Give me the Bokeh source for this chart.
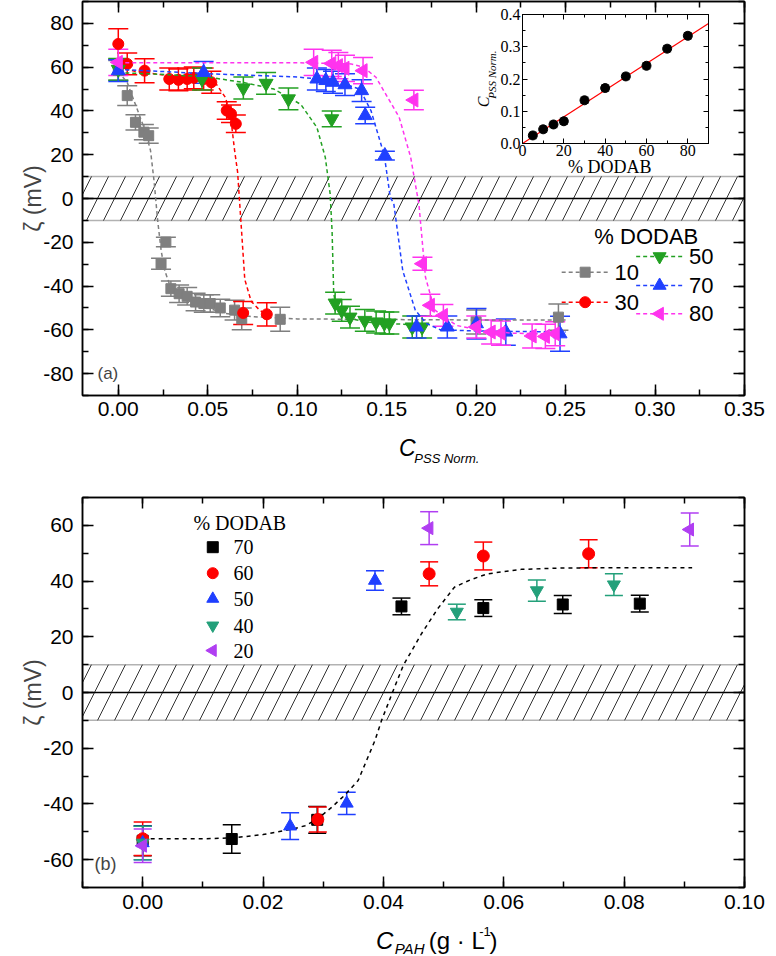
import numpy as np
from bokeh.plotting import figure
from bokeh.models import (ColumnDataSource, Whisker, TeeHead, BoxAnnotation, Span, Label,
                          LinearAxis, Range1d, FixedTicker, NumeralTickFormatter,
                          CustomLabelingPolicy)
from bokeh.layouts import column
from bokeh.embed import file_html
from bokeh.resources import INLINE

SANS = "Liberation Sans"
SERIF = "Liberation Serif"

# ---------------- panel (a): zeta potential vs C_PSS Norm. ----------------
a10_x = [0.000, 0.005, 0.0096, 0.0143, 0.017, 0.0239, 0.0266, 0.0294, 0.034, 0.0385, 0.0432,
         0.0478, 0.0514, 0.057, 0.065, 0.069, 0.0905, 0.200, 0.246]
a10_y = [58.5, 47.0, 34.8, 30.3, 28.7, -29.8, -19.9, -41.2, -43.5, -44.7, -47.3,
         -48.0, -48.0, -50.0, -51.0, -55.0, -55.2, -56.4, -54.2]
a10_e = [4.5, 4.5, 3.5, 3.5, 3.5, 2.5, 2.2, 3.5, 4.0, 4.0, 4.0, 4.0, 4.0, 4.0, 4.5, 5.0, 5.5, 5.5, 6.0]

a30_x = [0.000, 0.005, 0.0147, 0.0285, 0.0336, 0.0385, 0.0422, 0.0477, 0.052, 0.0606, 0.063,
         0.0657, 0.0698, 0.083]
a30_y = [70.6, 61.5, 58.4, 54.6, 54.2, 54.6, 55.1, 54.6, 53.1, 40.2, 38.7, 34.1, -52.3, -52.9]
a30_e = [7.0, 5.0, 5.5, 5.0, 5.0, 5.0, 5.0, 5.0, 5.0, 4.0, 4.0, 4.0, 5.3, 5.3]

a50_x = [0.000, 0.0468, 0.0699, 0.0826, 0.0951, 0.1193, 0.1212, 0.1249, 0.1295, 0.1378,
         0.1441, 0.1487, 0.1515, 0.1643, 0.1698]
a50_y = [59.0, 54.6, 50.5, 52.6, 45.5, 36.4, -47.8, -51.1, -54.2, -55.7, -56.4, -56.9, -56.9,
         -58.7, -58.7]
a50_e = [5.0, 5.0, 5.0, 5.0, 5.0, 3.6, 5.0, 5.0, 5.0, 5.0, 5.0, 5.0, 5.0, 5.0, 5.0]

a70_x = [0.000, 0.0477, 0.111, 0.116, 0.120, 0.1267, 0.136, 0.138, 0.149, 0.1667, 0.1839,
         0.2002, 0.2166, 0.2469]
a70_y = [58.4, 57.6, 54.6, 53.9, 53.1, 52.0, 49.3, 37.9, 19.6, -58.7, -58.7, -57.2, -61.0, -61.8]
a70_e = [5.0, 5.0, 5.0, 5.0, 5.0, 5.0, 5.0, 3.8, 2.0, 5.0, 5.0, 7.0, 6.0, 8.0]

a80_x = [0.000, 0.1092, 0.1193, 0.123, 0.1267, 0.1368, 0.1652, 0.170, 0.1744, 0.1817, 0.2001,
         0.2084, 0.2139, 0.2313, 0.2387, 0.2442]
a80_y = [62.2, 62.2, 61.7, 60.7, 59.5, 58.4, 45.0, -29.8, -48.8, -53.4, -58.7, -61.0, -61.5,
         -62.8, -63.0, -61.8]
a80_e = [6.0, 6.0, 6.0, 6.0, 6.0, 6.0, 4.4, 3.0, 5.0, 5.0, 5.0, 5.5, 5.5, 5.5, 5.5, 5.5]

# dashed guide curves
f10_x = [0.000, 0.005, 0.010, 0.015, 0.018, 0.020, 0.022, 0.024, 0.026, 0.029, 0.033, 0.040,
         0.050, 0.060, 0.075, 0.100, 0.150, 0.200, 0.250]
f10_y = [58, 53, 42, 31, 22, 8, -10, -24, -33, -40, -44, -47, -50, -52.5, -54, -55, -55.3,
         -55.5, -55.5]
f30_x = [0.000, 0.010, 0.020, 0.030, 0.040, 0.050, 0.055, 0.060, 0.063, 0.065, 0.0667, 0.0685,
         0.0707, 0.0743, 0.079, 0.083]
f30_y = [60, 58, 57, 56, 55.5, 54.5, 52, 46, 36, 22, 12, -10, -37, -47, -51, -53]
f50_x = [0.000, 0.030, 0.050, 0.070, 0.087, 0.102, 0.111, 0.1157, 0.1184, 0.1195, 0.1204,
         0.1215, 0.125, 0.130, 0.140, 0.155, 0.170]
f50_y = [57.5, 56.5, 55.5, 53, 50, 43, 32.5, 18.8, 2.2, -15, -43, -49, -52.5, -55, -56.5,
         -57.3, -57.8]
f70_x = [0.000, 0.050, 0.100, 0.120, 0.135, 0.1413, 0.144, 0.1487, 0.152, 0.154, 0.159, 0.166,
         0.172, 0.180, 0.200, 0.250]
f70_y = [59, 57, 55.5, 54, 50, 40, 32.5, 19.6, 0.6, -2.4, -33, -51, -57, -60, -60.5, -61]
f80_x = [0.000, 0.050, 0.100, 0.130, 0.137, 0.144, 0.157, 0.1634, 0.167, 0.168, 0.1717, 0.1753,
         0.177, 0.189, 0.203, 0.220, 0.245]
f80_y = [62, 62, 62, 61.5, 60, 55.4, 37.1, 18.9, 2.1, -2.4, -36, -46.5, -51, -58, -60.2,
         -61.5, -62]

# inset
ins_x = [5, 10, 15, 20, 30, 40, 50, 60, 70, 80]
ins_y = [0.025, 0.044, 0.059, 0.069, 0.134, 0.172, 0.208, 0.241, 0.294, 0.334]
ins_e = [0.01] * 10
ins_fit_x = [0, 90]
ins_fit_y = [0.0, 0.372]

# ---------------- panel (b): zeta potential vs C_PAH ----------------
b70_x = [0.000, 0.0148, 0.029, 0.043, 0.0566, 0.0698, 0.0826]
b70_y = [-53.2, -52.6, -45.7, 30.9, 30.3, 31.6, 31.9]
b70_e = [5.4, 5.1, 4.8, 3.0, 3.0, 3.2, 3.0]
b60_x = [0.000, 0.0291, 0.0476, 0.0566, 0.0741]
b60_y = [-52.5, -45.6, 42.6, 49.0, 49.8]
b60_e = [6.0, 4.5, 4.3, 5.0, 5.0]
b50_x = [0.000, 0.0245, 0.0339, 0.0386]
b50_y = [-54.0, -48.0, -39.8, 40.2]
b50_e = [6.0, 4.8, 4.0, 3.5]
b40_x = [0.000, 0.0522, 0.0655, 0.0783]
b40_y = [-54.0, 28.9, 36.6, 38.7]
b40_e = [6.0, 2.8, 3.8, 3.9]
b20_x = [0.000, 0.0476, 0.0909]
b20_y = [-55.0, 59.0, 58.5]
b20_e = [6.0, 5.9, 5.9]

fb_x = [0.000, 0.010, 0.015, 0.020, 0.0225, 0.025, 0.027, 0.029, 0.0314, 0.0335, 0.0358,
        0.0386, 0.0397, 0.0415, 0.0433, 0.0463, 0.049, 0.0518, 0.0545, 0.0573, 0.0629, 0.070,
        0.080, 0.0913]
fb_y = [-52.5, -52.5, -52.2, -51, -50, -49, -47.8, -45.5, -41.2, -37, -31.6, -17.2, -10, 0,
        9.7, 21, 30, 37.8, 40.5, 42.6, 44.2, 44.7, 44.8, 44.8]

legend_a = ["10", "30", "50", "70", "80"]
legend_b = ["70", "60", "50", "40", "20"]

W, H = 776, 956
NO_LABELS = CustomLabelingPolicy(code="for (const i of indices) { indices.unset(i) }")


def ticks(start, stop, step):
    n = int(round((stop - start) / step))
    return [round(start + k * step, 6) for k in range(n + 1)]


def errbars(p, x, y, e, color, head=20, lw=1.5):
    y = np.asarray(y, float)
    e = np.asarray(e, float)
    src = ColumnDataSource(dict(x=list(x), lo=y - e, hi=y + e))
    w = Whisker(base="x", lower="lo", upper="hi", source=src, line_color=color, line_width=lw,
                lower_head=TeeHead(size=head, line_color=color, line_width=lw),
                upper_head=TeeHead(size=head, line_color=color, line_width=lw))
    p.add_layout(w)


def style_axes(p, xt, yt, xfmt, yfmt, xstand, ystand, font, fsize, tin, tmin, lw):
    p.xgrid.visible = False
    p.ygrid.visible = False
    p.outline_line_color = "black"
    p.outline_line_width = lw
    xa, ya = p.xaxis[0], p.yaxis[0]
    for ax, t, f, s in ((xa, xt, xfmt, xstand), (ya, yt, yfmt, ystand)):
        ax.ticker = t
        ax.formatter = f
        ax.major_label_standoff = s
        ax.major_label_text_font = font
        ax.major_label_text_font_size = fsize
        ax.major_label_text_color = "black"
        ax.major_tick_in = tin
        ax.major_tick_out = 0
        ax.minor_tick_in = tmin
        ax.minor_tick_out = 0
        ax.axis_line_width = lw
        ax.major_tick_line_width = lw
        ax.minor_tick_line_width = lw
        ax.axis_line_color = "black"
        ax.major_tick_line_color = "black"
        ax.minor_tick_line_color = "black"
    for t, side in ((xt, "above"), (yt, "right")):
        ax = LinearAxis(ticker=t, major_label_policy=NO_LABELS,
                        major_label_text_font_size="0px", major_label_standoff=0,
                        major_tick_in=tin, major_tick_out=0, minor_tick_in=tmin,
                        minor_tick_out=0, axis_line_width=lw, major_tick_line_width=lw,
                        minor_tick_line_width=lw)
        p.add_layout(ax, side)


def band(p):
    p.add_layout(BoxAnnotation(bottom=-10, top=10, fill_alpha=0, hatch_pattern="/",
                               hatch_scale=34, hatch_weight=1, hatch_color="#333333",
                               line_color="black", line_width=1.5, level="underlay"))
    p.add_layout(Span(location=0, dimension="width", line_color="black", line_width=1.5,
                      level="underlay"))


def ylabel(p):
    ax = p.yaxis[0]
    ax.axis_label = "ζ (mV)"
    ax.axis_label_text_font = SANS
    ax.axis_label_text_font_size = "23px"
    ax.axis_label_text_font_style = "normal"
    ax.axis_label_standoff = -6


# ================= panel (a) =================
pa = figure(width=W, height=488, x_range=Range1d(-0.02, 0.35), y_range=Range1d(-90, 90),
            output_backend="svg", toolbar_location=None,
            min_border_left=82, min_border_right=21, min_border_top=1, min_border_bottom=93)
style_axes(pa,
           FixedTicker(ticks=ticks(0, 0.35, 0.05), minor_ticks=ticks(-0.025, 0.35, 0.025)),
           FixedTicker(ticks=ticks(-80, 80, 20), minor_ticks=ticks(-90, 90, 10)),
           NumeralTickFormatter(format="0.00"), NumeralTickFormatter(format="0"),
           6, 9, SANS, "21px", 11, 6, 1.5)
ylabel(pa)
band(pa)

series_a = [
    (a10_x, a10_y, a10_e, f10_x, f10_y, "#7f7f7f", "square", 10, 0.0),
    (a30_x, a30_y, a30_e, f30_x, f30_y, "#ff0000", "circle", 11, 0.0),
    (a50_x, a50_y, a50_e, f50_x, f50_y, "#22a022", "inverted_triangle", 14, 0.0),
    (a70_x, a70_y, a70_e, f70_x, f70_y, "#2040ff", "triangle", 14, 0.0),
    (a80_x, a80_y, a80_e, f80_x, f80_y, "#ff33ee", "triangle", 14, np.pi / 2),
]
for x, y, e, fx, fy, c, m, s, ang in series_a:
    pa.line(fx, fy, line_color=c, line_width=1.5, line_dash="4 3")
    errbars(pa, x, y, e, c, head=20, lw=1.5)
    pa.scatter(x, y, marker=m, size=s, fill_color=c, line_color=c, angle=ang)

pa.add_layout(Label(x=15, y=22, x_units="screen", y_units="screen", text="(a)",
                    text_font=SANS, text_font_size="17px", text_baseline="middle"))

# ================= inset =================
ins = figure(width=300, height=165, x_range=Range1d(0, 90), y_range=Range1d(0, 0.4),
             output_backend="svg", toolbar_location=None,
             min_border_left=68, min_border_right=3, min_border_top=14, min_border_bottom=22,
             background_fill_alpha=0, border_fill_alpha=0,
             styles={"position": "absolute", "left": "440px", "top": "0px"})
style_axes(ins,
           FixedTicker(ticks=[0, 20, 40, 60, 80], minor_ticks=[10, 30, 50, 70, 90]),
           FixedTicker(ticks=[0.0, 0.1, 0.2, 0.3, 0.4],
                       minor_ticks=[0.05, 0.15, 0.25, 0.35]),
           NumeralTickFormatter(format="0"), NumeralTickFormatter(format="0.0"),
           1, 2, SERIF, "16px", 5, 3, 1)
ins.line(ins_fit_x, ins_fit_y, line_color="#ff0000", line_width=1.2)
errbars(ins, ins_x, ins_y, ins_e, "#333333", head=8, lw=1)
ins.scatter(ins_x, ins_y, marker="circle", size=9, fill_color="black", line_color="black")

# ================= panel (b) =================
pb = figure(width=W, height=468, x_range=Range1d(-0.01, 0.10), y_range=Range1d(-70, 70),
            output_backend="svg", toolbar_location=None,
            min_border_left=81, min_border_right=32, min_border_top=9, min_border_bottom=69)
style_axes(pb,
           FixedTicker(ticks=ticks(0, 0.10, 0.02), minor_ticks=ticks(-0.01, 0.10, 0.01)),
           FixedTicker(ticks=ticks(-60, 60, 20), minor_ticks=ticks(-70, 70, 10)),
           NumeralTickFormatter(format="0.00"), NumeralTickFormatter(format="0"),
           7, 9, SANS, "21px", 11, 6, 1.5)
ylabel(pb)
band(pb)
pb.line(fb_x, fb_y, line_color="black", line_width=1.5, line_dash="4 4")

series_b = [
    (b70_x, b70_y, b70_e, "#000000", "square", 11, 0.0),
    (b60_x, b60_y, b60_e, "#ff0000", "circle", 12, 0.0),
    (b50_x, b50_y, b50_e, "#1f3fff", "triangle", 13, 0.0),
    (b40_x, b40_y, b40_e, "#23a07a", "inverted_triangle", 13, 0.0),
    (b20_x, b20_y, b20_e, "#b03ef2", "triangle", 13, np.pi / 2),
]
for x, y, e, c, m, s, ang in series_b:
    errbars(pb, x, y, e, c, head=18, lw=1.5)
    pb.scatter(x, y, marker=m, size=s, fill_color=c, line_color=c, angle=ang)

pb.add_layout(Label(x=12, y=24, x_units="screen", y_units="screen", text="(b)",
                    text_font=SANS, text_font_size="18px", text_baseline="middle"))

# ================= overlay: legends and axis titles (page pixel layout) =================
ov = figure(width=W, height=H, x_range=Range1d(0, W), y_range=Range1d(0, H),
            x_axis_type=None, y_axis_type=None, output_backend="svg", toolbar_location=None,
            min_border=0, outline_line_color=None, background_fill_alpha=0,
            border_fill_alpha=0, styles={"position": "absolute", "left": "0px", "top": "0px"})
ov.xgrid.visible = False
ov.ygrid.visible = False


def otxt(px, py, t, size, font=SANS, style="normal", align="left", angle=0.0):
    ov.add_layout(Label(x=px, y=H - py, text=t, text_font=font, text_font_size=size,
                        text_font_style=style, text_align=align, text_baseline="middle",
                        angle=angle, text_color="black"))


# legend of panel (a): (glyph left, row centre) in page pixels
leg_a_pos = [(561.7, 271.7), (561.7, 301.7), (649.0, 256.0), (649.0, 285.0), (649.0, 313.3)]
for (gx, gy), (x, y, e, fx, fy, c, m, s, ang), lab in zip(leg_a_pos, series_a, legend_a):
    ov.line([gx, gx + 55], [H - gy, H - gy], line_color=c, line_width=1.5, line_dash="4 3")
    ov.scatter([gx + 27.5], [H - gy], marker=m, size=min(s, 13), fill_color=c, line_color=c,
               angle=ang)
    otxt(gx + 62, gy, lab, "22px")
otxt(600, 236, "% DODAB", "22px")

# legend of panel (b)
leg_b_rows = [546.7, 572.7, 598.3, 625.0, 650.0]
for gy, (x, y, e, c, m, s, ang), lab in zip(leg_b_rows, series_b, legend_b):
    ov.scatter([152.7], [H - gy], marker=m, size=min(s, 11) if m in ("square", "circle") else 12,
               fill_color=c, line_color=c, angle=ang)
    otxt(177, gy, lab, "20px", font=SERIF)
otxt(130, 522, "% DODAB", "20px", font=SERIF)

# axis title of panel (a)
otxt(371, 447.5, "C", "23px", style="italic")
otxt(389, 457.5, "PSS Norm.", "13px", style="italic")
# axis title of panel (b)
otxt(344, 940, "C", "24px", style="italic")
otxt(366, 948, "PAH", "15px", style="italic")
otxt(406, 940, "(g · L", "24px")
otxt(465, 931, "-1", "13px")
otxt(477, 940, ")", "24px")
# inset axis titles
otxt(618, 166.7, "% DODAB", "18px", font=SERIF, align="center")
otxt(470, 106.7, "C", "16px", font=SERIF, style="italic", angle=np.pi / 2)
otxt(480, 98.3, "PSS Norm.", "11px", font=SERIF, style="italic", angle=np.pi / 2)

layout = column(pa, pb, ins, ov)
open("out.html", "w").write(file_html(layout, INLINE))
